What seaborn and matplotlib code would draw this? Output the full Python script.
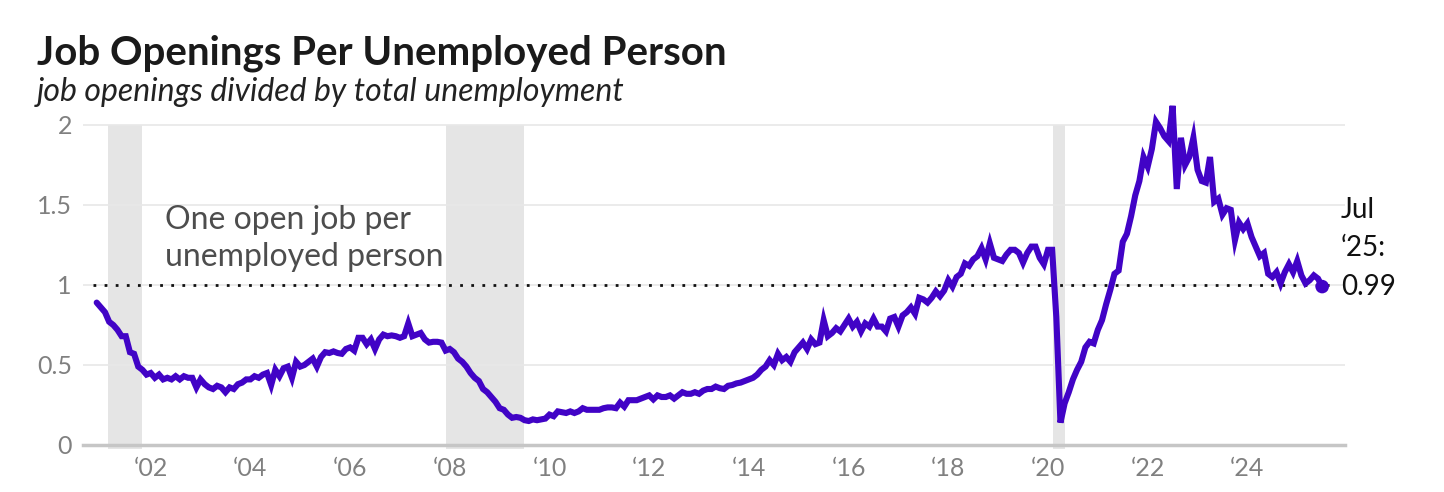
import pandas as pd
import matplotlib
matplotlib.use("Agg")
import matplotlib.pyplot as plt
import seaborn as sns

# 求人数 / 失業者数（月次、2000年12月〜2025年7月）
START_MONTH = "2000-12-01"

ratio_2000s = [
    0.89,
    0.86, 0.83, 0.77, 0.75, 0.72, 0.68, 0.68, 0.58, 0.57, 0.49, 0.47, 0.44,  # 2001
    0.45, 0.42, 0.44, 0.41, 0.42, 0.41, 0.43, 0.41, 0.43, 0.42, 0.42, 0.36,  # 2002
    0.41, 0.38, 0.36, 0.35, 0.37, 0.36, 0.33, 0.36, 0.35, 0.38, 0.39, 0.41,  # 2003
    0.41, 0.43, 0.42, 0.44, 0.45, 0.375, 0.47, 0.43, 0.48, 0.49, 0.42, 0.52,  # 2004
    0.49, 0.50, 0.52, 0.54, 0.49, 0.55, 0.58, 0.575, 0.585, 0.575, 0.57, 0.60,  # 2005
    0.61, 0.59, 0.67, 0.67, 0.63, 0.66, 0.60, 0.66, 0.69, 0.68, 0.685, 0.68,  # 2006
    0.67, 0.68, 0.76, 0.68, 0.69, 0.70, 0.66, 0.64, 0.645, 0.645, 0.64, 0.59,  # 2007
    0.60, 0.58, 0.54, 0.52, 0.49, 0.45, 0.42, 0.40, 0.35, 0.33, 0.30, 0.27,  # 2008
    0.23, 0.22, 0.19, 0.17, 0.175, 0.17, 0.155, 0.15, 0.16, 0.155, 0.16, 0.165,  # 2009
]

ratio_2010s = [
    0.19, 0.18, 0.21, 0.205, 0.20, 0.21, 0.20, 0.21, 0.23, 0.22, 0.22, 0.22,  # 2010
    0.22, 0.23, 0.235, 0.235, 0.23, 0.265, 0.24, 0.28, 0.28, 0.28, 0.29, 0.30,  # 2011
    0.31, 0.285, 0.31, 0.30, 0.30, 0.31, 0.29, 0.31, 0.33, 0.32, 0.32, 0.33,  # 2012
    0.32, 0.34, 0.35, 0.35, 0.365, 0.355, 0.35, 0.37, 0.375, 0.385, 0.39, 0.40,  # 2013
    0.41, 0.42, 0.44, 0.47, 0.49, 0.53, 0.50, 0.57, 0.53, 0.55, 0.52, 0.58,  # 2014
    0.61, 0.64, 0.60, 0.66, 0.63, 0.64, 0.78, 0.68, 0.70, 0.73, 0.71, 0.75,  # 2015
    0.79, 0.74, 0.77, 0.71, 0.76, 0.74, 0.79, 0.74, 0.74, 0.71, 0.79, 0.80,  # 2016
    0.74, 0.81, 0.83, 0.86, 0.82, 0.92, 0.91, 0.89, 0.92, 0.96, 0.93, 0.965,  # 2017
    1.03, 0.99, 1.05, 1.07, 1.135, 1.12, 1.16, 1.18, 1.23, 1.16, 1.26, 1.17,  # 2018
    1.16, 1.15, 1.19, 1.22, 1.22, 1.20, 1.14, 1.20, 1.24, 1.24, 1.17, 1.13,  # 2019
]

ratio_2020s = [
    1.22, 1.22, 0.80, 0.14, 0.26, 0.33, 0.41, 0.47, 0.52, 0.61, 0.645, 0.635,  # 2020
    0.72, 0.78, 0.88, 0.97, 1.07, 1.09, 1.27, 1.32, 1.43, 1.56, 1.65, 1.80,  # 2021
    1.74, 1.85, 2.02, 1.98, 1.93, 1.90, 2.12, 1.60, 1.92, 1.75, 1.80, 1.92,  # 2022
    1.72, 1.65, 1.64, 1.80, 1.52, 1.54, 1.44, 1.48, 1.47, 1.28, 1.39, 1.35,  # 2023
    1.385, 1.30, 1.24, 1.18, 1.20, 1.07, 1.05, 1.08, 1.01, 1.08, 1.13, 1.08,  # 2024
    1.15, 1.06, 1.01, 1.03, 1.06, 1.04, 0.99,  # 2025
]

# 景気後退期（年の小数表記）
recessions = [(2001.15, 2001.83), (2007.92, 2009.48), (2020.10, 2020.35)]

y_ticks = [0, 0.5, 1, 1.5, 2]
y_labels = ["0", "0.5", "1", "1.5", "2"]
tick_years = list(range(2001, 2026))
label_years = [2002, 2004, 2006, 2008, 2010, 2012, 2014, 2016, 2018, 2020, 2022, 2024]

TITLE = "Job Openings Per Unemployed Person"
SUBTITLE = "job openings divided by total unemployment"
NOTE = "One open job per\nunemployed person"
END_LABEL = "Jul\n\u201825:\n0.99"

LINE_COLOR = "#4103C6"
GRAY_TEXT = "#808080"

sns.set_theme(style="white")
plt.rcParams["font.family"] = ["Lato", "DejaVu Sans"]

ratio = ratio_2000s + ratio_2010s + ratio_2020s
months = pd.date_range(START_MONTH, periods=len(ratio), freq="MS")
df = pd.DataFrame({"t": months.year + (months.month - 1) / 12, "ratio": ratio})

fig = plt.figure(figsize=(14.44, 4.92), dpi=100)
ax = fig.add_axes([83 / 1444, 42 / 492, 1262 / 1444, 355 / 492])

# 景気後退期の網掛け
for start, end in recessions:
    ax.fill_between([start, end], -0.025, 2, color="#e5e5e5", lw=0, zorder=0)

# 1 の基準線（点線）
ax.plot([df["t"].iloc[0] - 0.08, df["t"].iloc[-1] + 0.23], [1, 1],
        color="#111111", lw=2, ls=(0, (1, 3)), dash_capstyle="butt", zorder=2)

sns.lineplot(data=df, x="t", y="ratio", color=LINE_COLOR, lw=4.4, ax=ax, zorder=3)
ax.lines[-1].set_solid_joinstyle("miter")
sns.scatterplot(x=df["t"].iloc[-1:], y=df["ratio"].iloc[-1:], color=LINE_COLOR,
                s=95, edgecolor="none", ax=ax, zorder=4)

ax.set_xlim(2000.642, 2025.958)
ax.set_ylim(-0.03125, 2.1875)

ax.set_yticks(y_ticks)
ax.set_yticklabels(y_labels)
ax.set_xticks(tick_years)
ax.set_xticklabels([f"\u2018{y % 100:02d}" if y in label_years else "" for y in tick_years])

ax.grid(axis="y", color="#e8e8e8", lw=1.2)
ax.set_axisbelow(True)
for side in ["top", "right", "left"]:
    ax.spines[side].set_visible(False)
ax.spines["bottom"].set_position(("data", 0))
ax.spines["bottom"].set_color("#c6c6c6")
ax.spines["bottom"].set_linewidth(2.5)

ax.tick_params(axis="y", length=0, pad=8, labelsize=18, labelcolor=GRAY_TEXT)
ax.tick_params(axis="x", direction="in", length=8.5, width=1, color="#cccccc",
               pad=9, labelsize=18, labelcolor=GRAY_TEXT)
ax.set_xlabel("")
ax.set_ylabel("")

ax.text(2002.29, 1.119, NOTE, fontsize=23, color="#4d4d4d", va="baseline", ha="left",
        linespacing=1.3)
ax.text(2025.88, 0.9375, END_LABEL, fontsize=20, color="#111111", va="baseline", ha="left",
        linespacing=1.6)

fig.text(37 / 1444, 1 - 65 / 492, TITLE, fontsize=29, fontweight="bold",
         color="#1a1a1a", va="baseline")
fig.text(37 / 1444, 1 - 101 / 492, SUBTITLE, fontsize=23, style="italic",
         color="#222222", va="baseline")

fig.savefig("out.png", dpi=100)
